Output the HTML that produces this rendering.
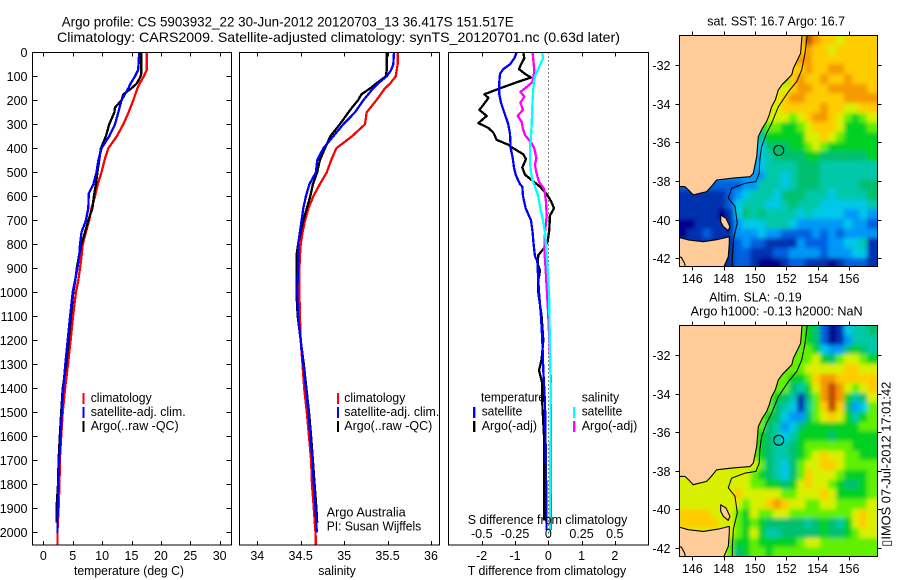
<!DOCTYPE html>
<html lang="en">
<head>
<meta charset="utf-8">
<title>Argo profile CS 5903932_22</title>
<style>
html,body{margin:0;padding:0;background:#fff;}
svg{display:block;}
text{font-family:"Liberation Sans",Arial,sans-serif;font-size:12.5px;fill:#000;}
.title{font-size:14px;}
.frame{fill:none;stroke:#000;stroke-width:1.4;shape-rendering:crispEdges;}
.tick{stroke:#000;stroke-width:1;shape-rendering:crispEdges;}
.ser{fill:none;stroke-width:2.3;stroke-linejoin:round;shape-rendering:crispEdges;}
</style>
</head>
<body>
<svg id="fig" xmlns="http://www.w3.org/2000/svg" width="900" height="580" viewBox="0 0 900 580">
<rect width="900" height="580" fill="#fff"/>
<defs>
<clipPath id="clip1"><rect x="679.5" y="35.5" width="198" height="231"/></clipPath>
<clipPath id="clip2"><rect x="679.5" y="325.5" width="198" height="231"/></clipPath>
<filter id="soften" filterUnits="userSpaceOnUse" x="640" y="0" width="260" height="580"><feGaussianBlur stdDeviation="2.2"/></filter>
</defs>

<text class="title" x="61.7" y="26.5" textLength="452" lengthAdjust="spacingAndGlyphs">Argo profile: CS 5903932_22 30-Jun-2012 20120703_13 36.417S 151.517E</text>
<text class="title" x="57" y="42" textLength="563" lengthAdjust="spacingAndGlyphs">Climatology: CARS2009. Satellite-adjusted climatology: synTS_20120701.nc (0.63d later)</text>

<g id="p1"></g>
<g id="p2"></g>
<g id="p3"></g>
<g id="m1"></g>
<g id="m2"></g>

<g>
<text x="74" y="575" textLength="110" lengthAdjust="spacingAndGlyphs">temperature (deg C)</text>
<rect x="82.5" y="393" width="2" height="11" fill="#f00"/>
<rect x="82.5" y="407" width="2" height="11" fill="#00f"/>
<rect x="82.5" y="421" width="2" height="11" fill="#000"/>
<text x="90.7" y="402" textLength="61" lengthAdjust="spacingAndGlyphs">climatology</text>
<text x="90.7" y="416" textLength="95" lengthAdjust="spacingAndGlyphs">satellite-adj. clim.</text>
<text x="90.7" y="430" textLength="88" lengthAdjust="spacingAndGlyphs">Argo(..raw -QC)</text>
</g>

<g>
<text x="318.3" y="575" textLength="37.5" lengthAdjust="spacingAndGlyphs">salinity</text>
<rect x="337" y="393" width="2" height="11" fill="#f00"/>
<rect x="337" y="407" width="2" height="11" fill="#00f"/>
<rect x="337" y="421" width="2" height="11" fill="#000"/>
<text x="344.3" y="402" textLength="61" lengthAdjust="spacingAndGlyphs">climatology</text>
<text x="344.3" y="416" textLength="95" lengthAdjust="spacingAndGlyphs">satellite-adj. clim.</text>
<text x="344.3" y="430" textLength="88" lengthAdjust="spacingAndGlyphs">Argo(..raw -QC)</text>
<text x="326.7" y="516.7" textLength="79" lengthAdjust="spacingAndGlyphs">Argo Australia</text>
<text x="326.7" y="530.7" textLength="94.5" lengthAdjust="spacingAndGlyphs">PI: Susan Wijffels</text>
</g>

<g>
<text x="481" y="401.7" textLength="64" lengthAdjust="spacingAndGlyphs">temperature</text>
<rect x="473" y="407" width="2.4" height="11" fill="#00f"/>
<rect x="473" y="421" width="2.4" height="11" fill="#000"/>
<text x="481.7" y="415.7" textLength="40.6" lengthAdjust="spacingAndGlyphs">satellite</text>
<text x="481.7" y="430" textLength="55.3" lengthAdjust="spacingAndGlyphs">Argo(-adj)</text>
<text x="581.7" y="401.7" textLength="37.5" lengthAdjust="spacingAndGlyphs">salinity</text>
<rect x="573" y="407" width="2.4" height="11" fill="#0ff"/>
<rect x="573" y="421" width="2.4" height="11" fill="#f0f"/>
<text x="581.7" y="415.7" textLength="40.6" lengthAdjust="spacingAndGlyphs">satellite</text>
<text x="581.7" y="430" textLength="55.6" lengthAdjust="spacingAndGlyphs">Argo(-adj)</text>
<text x="467.7" y="524" textLength="159.6" lengthAdjust="spacingAndGlyphs">S difference from climatology</text>
<text x="467.7" y="575" textLength="158.5" lengthAdjust="spacingAndGlyphs">T difference from climatology</text>
</g>

<g>
<text x="707.3" y="25.7" textLength="137.7" lengthAdjust="spacingAndGlyphs">sat. SST: 16.7 Argo: 16.7</text>
<text x="709.3" y="301.7" textLength="92.4" lengthAdjust="spacingAndGlyphs">Altim. SLA: -0.19</text>
<text x="690.7" y="315.7" textLength="172" lengthAdjust="spacingAndGlyphs">Argo h1000: -0.13 h2000: NaN</text>
<text transform="translate(890.7,546.7) rotate(-90)" textLength="165" lengthAdjust="spacingAndGlyphs">&#9647;IMOS 07-Jul-2012 17:01:42</text>
</g>
</svg>

<script>
// ---- profile data ----
const tempDepths = [0,50,75,100,130,150,200,250,300,350,400,450,500,550,600,650,700,750,800,850,900,950,1000,1100,1200,1300,1400,1500,1600,1700,1800,1900,2000,2050];
const tempClim = [17.57,17.57,17.57,17.1,16.4,16.0,15.3,14.5,13.6,12.5,11.05,10.4,9.9,9.25,8.8,8.2,7.8,7.25,6.7,6.5,6.25,5.95,5.55,5.05,4.65,4.2,3.7,3.3,3.05,2.8,2.75,2.6,2.4,2.4];
const tempSatDepths = [0,50,75,100,130,150,200,250,300,350,400,450,500,550,590,610,650,700,750,800,850,900,950,1000,1100,1200,1300,1400,1500,1600,1700,1800,1900,2000];
const tempSat = [16.3,16.2,16.1,15.6,14.85,14.45,13.3,12.75,12.2,11.2,9.9,9.35,9.05,8.5,7.7,7.7,7.65,7.25,6.5,6.25,6.1,5.8,5.4,5.0,4.55,4.15,3.75,3.4,3.15,2.95,2.7,2.55,2.45,2.4];
const tempArgoDepths = [0,50,90,100,130,150,175,200,230,250,300,350,400,450,500,550,600,650,700,750,800,850,900,950,1000,1100,1200,1300,1400,1500,1600,1700,1800,1900,1960];
const tempArgo = [16.65,16.65,16.65,16.55,15.9,15.0,13.6,13.3,12.2,12.1,11.2,10.65,9.8,9.5,9.2,8.95,8.6,8.35,7.65,7.1,6.5,6.05,5.7,5.45,5.1,4.7,4.3,3.9,3.3,3.05,2.8,2.6,2.5,2.25,2.25];

const salClimDepths = [0,50,75,100,130,150,200,250,300,350,400,450,500,550,600,650,700,750,800,850,900,1000,1100,1200,1300,1400,1500,1600,1700,1800,1900,2000,2050];
const salClim = [35.616,35.616,35.605,35.593,35.53,35.47,35.37,35.26,35.24,35.09,34.91,34.85,34.80,34.72,34.645,34.59,34.55,34.52,34.5,34.49,34.485,34.485,34.49,34.5,34.52,34.54,34.57,34.595,34.62,34.63,34.65,34.67,34.675];
const salSatDepths = [0,50,75,100,130,150,200,250,300,350,400,450,500,550,600,650,700,750,800,850,900,1000,1100,1200,1300,1400,1500,1600,1700,1800,1900,2000];
const salSat = [35.574,35.566,35.54,35.49,35.39,35.335,35.22,35.125,34.99,34.875,34.76,34.69,34.675,34.6,34.56,34.53,34.51,34.49,34.47,34.47,34.47,34.46,34.47,34.5,34.53,34.56,34.59,34.61,34.635,34.65,34.67,34.685];
const salArgoDepths = [0,50,75,100,130,150,175,200,230,250,300,350,400,450,500,550,600,650,700,750,800,850,900,1000,1100,1200,1300,1400,1500,1600,1700,1800,1900,1960];
const salArgo = [35.49,35.49,35.49,35.48,35.37,35.3,35.2,35.16,35.09,35.05,34.95,34.84,34.78,34.72,34.69,34.64,34.61,34.57,34.53,34.5,34.47,34.45,34.45,34.45,34.465,34.5,34.535,34.565,34.595,34.62,34.64,34.66,34.68,34.69];

const dTArgoDepths = [0,25,50,70,90,105,125,150,175,190,210,240,265,295,315,335,365,385,400,425,445,480,510,560,590,620,650,680,740,790,820,845,880,910,950,1000,1100,1200,1280,1325,1380,1464,1600,1880,1950];
const dTArgo = [-0.75,-0.72,-0.82,-0.88,-0.7,-0.52,-0.95,-1.45,-1.92,-1.8,-1.9,-2.07,-1.85,-2.1,-1.8,-1.65,-1.55,-1.2,-1.05,-0.75,-0.67,-0.78,-0.7,-0.25,-0.05,0.08,0.17,0.05,0.03,-0.02,-0.15,-0.3,-0.32,-0.25,-0.3,-0.3,-0.2,-0.15,-0.2,-0.28,-0.18,-0.18,-0.13,-0.12,-0.12];
const dTSatDepths = [0,25,50,70,90,125,175,210,260,300,340,400,440,480,510,550,560,600,650,700,750,800,850,870,950,1000,1100,1200,1325,1464,1740,1990];
const dTSat = [-0.95,-1.02,-1.15,-1.35,-1.45,-1.47,-1.47,-1.42,-1.3,-1.2,-1.15,-1.13,-1.07,-1.03,-0.98,-0.85,-0.78,-0.76,-0.68,-0.52,-0.47,-0.44,-0.4,-0.33,-0.3,-0.28,-0.22,-0.18,-0.15,-0.1,-0.07,-0.05];
const dSSatDepths = [0,25,50,75,100,130,200,300,350,400,450,500,530,560,600,650,700,750,800,900,1000,1400,2000];
const dSSat = [-0.045,-0.04,-0.06,-0.08,-0.1,-0.11,-0.118,-0.125,-0.13,-0.138,-0.138,-0.13,-0.12,-0.1,-0.075,-0.06,-0.04,-0.025,-0.018,-0.005,0.005,0.018,0.012];
const dSArgoDepths = [0,50,75,100,125,150,165,185,210,240,265,290,320,345,375,400,440,470,500,540,570,620,680,750,820,900,1100,1300,1400,1600,1900,1990];
const dSArgo = [-0.118,-0.11,-0.105,-0.11,-0.12,-0.175,-0.21,-0.18,-0.21,-0.19,-0.23,-0.2,-0.19,-0.175,-0.13,-0.105,-0.09,-0.1,-0.09,-0.07,-0.03,-0.018,-0.012,-0.025,-0.03,-0.02,0.0,0.015,0.02,0.02,0.02,0.02];

// ---- tick labels ----
const depthTicks = [0,100,200,300,400,500,600,700,800,900,1000,1100,1200,1300,1400,1500,1600,1700,1800,1900,2000];
const tempTicks = [0,5,10,15,20,25,30];
const salTicks = [34,34.5,35,35.5,36];
const dTTicks = [-2,-1,0,1,2];
const dSTicks = [-0.5,-0.25,0,0.25,0.5];
const lonTicks = [146,148,150,152,154,156];
const latTicks = [-32,-34,-36,-38,-40,-42];

// ---- map geography (degrees) ----
const mainlandLon = [145.0,153.02,152.91,152.45,152.35,152.13,151.75,151.49,151.3,151.06,150.9,150.74,150.45,150.21,150.11,149.89,149.68,148.6,147.55,147.2,146.91,146.06,145.8,145.53,145.0];
const mainlandLat = [-30.3,-30.3,-31.40,-32.17,-32.5,-32.69,-33.0,-33.29,-33.8,-34.16,-34.6,-34.93,-35.3,-35.71,-36.74,-37.60,-37.78,-37.85,-37.95,-38.3,-38.55,-38.72,-38.5,-38.29,-38.29];
const tasmaniaLon = [145.0,145.74,146.70,147.66,148.36,148.36,148.30,148.02,148.0,145.0];
const tasmaniaLat = [-40.88,-41.05,-41.14,-41.02,-40.88,-41.22,-41.91,-42.43,-42.7,-42.7];
const islandLon = [147.81,148.15,148.40,148.30,147.98,147.81];
const islandLat = [-39.76,-39.93,-40.36,-40.57,-40.36,-40.10];
const cornerLon = [145.0,145.3,145.5,145.6,145.0];
const cornerLat = [-41.9,-41.95,-42.25,-42.6,-42.6];
const isobathLon = [153.36,153.19,152.98,152.66,152.13,151.49,151.06,150.74,150.42,150.31,150.27,150.06,149.36,148.51,148.30,148.72,148.87,148.62,148.55,148.55];
const isobathLat = [-30.3,-31.40,-32.26,-32.86,-33.38,-34.16,-35.02,-35.53,-36.22,-36.91,-37.60,-38.03,-38.12,-38.38,-38.88,-39.31,-40.17,-41.02,-42.0,-42.6];
const floatLon = 151.517;
const floatLat = -36.417;

// ---- map colour levels (0 lowest .. 12 highest), 0.5 degree cells ----
const sstLevels = [
[10,10,10,10,10,10,10,10,10,10,10,10,10,10,10,10,12,11,10,10,9,10,10,10,10,10],
[10,10,10,10,10,10,10,10,10,10,10,10,10,10,10,10,11,10,10,9,10,10,10,10,10,10],
[11,11,11,11,11,11,11,11,11,11,11,11,11,11,11,11,11,10,10,10,10,10,10,10,10,10],
[10,10,10,10,10,10,10,10,10,10,10,10,10,10,10,10,11,10,10,11,11,10,10,10,10,10],
[9,9,9,9,9,9,9,9,9,9,9,9,9,8,10,11,10,10,11,10,10,11,10,10,10,10],
[9,9,9,9,9,9,9,9,9,9,9,9,9,9,10,11,11,10,10,11,11,11,11,11,10,10],
[9,9,9,9,9,9,9,9,9,9,9,9,9,10,11,11,10,10,10,10,10,11,11,11,11,11],
[9,9,9,9,9,9,9,9,9,9,9,9,9,10,10,10,10,10,11,10,10,9,9,10,10,10],
[9,9,9,9,9,9,9,9,9,9,9,9,9,9,8,9,10,11,11,10,9,8,7,8,9,9],
[7,7,7,7,7,7,7,7,7,7,7,8,8,7,7,8,9,10,10,10,9,7,7,7,8,8],
[5,5,5,5,5,5,5,5,5,5,5,7,7,7,7,7,9,9,10,9,8,7,7,7,7,7],
[4,4,4,4,4,4,4,4,4,4,4,6,6,6,7,7,8,9,8,7,7,7,7,7,7,7],
[3,3,3,3,3,3,3,3,3,3,4,5,6,6,6,6,7,7,6,6,6,6,6,6,7,7],
[3,3,3,3,3,3,3,3,3,3,4,5,5,5,5,6,6,6,5,5,5,5,5,5,5,5],
[3,3,3,3,3,3,3,3,3,3,3,5,5,4,5,6,6,6,5,5,5,5,5,5,5,5],
[2,2,2,2,2,2,2,2,3,3,5,5,5,4,5,6,6,6,5,5,5,5,5,6,6,6],
[1,1,1,1,1,1,2,3,4,5,5,5,4,6,6,6,5,5,5,4,5,5,5,5,6,6],
[1,1,1,1,1,1,2,4,5,5,5,4,4,5,6,5,5,5,4,4,4,4,4,4,5,5],
[1,1,1,1,1,0,1,4,6,5,6,5,5,5,5,4,5,4,4,4,4,3,3,4,3,3],
[0,0,1,1,1,1,1,3,4,4,4,5,5,5,4,3,3,3,3,3,3,4,3,3,2,2],
[0,1,1,2,1,1,1,3,3,3,4,3,3,2,2,2,2,3,2,3,2,3,3,3,3,3],
[1,1,1,1,1,1,1,2,3,2,2,1,1,1,1,3,2,2,2,3,3,4,4,5,1,1],
[1,1,1,1,1,1,1,2,2,1,1,1,2,2,3,3,3,3,2,3,3,3,4,4,1,1],
[1,1,1,1,1,1,1,2,2,1,0,0,0,1,2,2,1,1,1,0,1,2,2,2,1,1]
];
const slaLevels = [
[8,8,8,8,8,8,8,8,8,8,8,8,8,8,8,8,7,6,2,0,1,4,5,5,6,6],
[8,8,8,8,8,8,8,8,8,8,8,8,8,8,8,8,7,6,2,0,1,3,5,5,5,5],
[8,8,8,8,8,8,8,8,8,8,8,8,8,8,8,8,8,7,4,3,3,6,7,6,5,5],
[8,8,8,8,8,8,8,8,8,8,8,8,8,8,8,8,8,9,7,6,8,9,9,8,7,7],
[8,8,8,8,8,8,8,8,8,8,8,8,8,8,8,8,9,9,9,9,9,10,10,9,9,9],
[8,8,8,8,8,8,8,8,8,8,8,8,8,8,7,7,8,10,11,11,10,10,10,10,10,10],
[8,8,8,8,8,8,8,8,8,8,8,8,8,8,6,5,7,9,11,12,11,9,8,9,10,10],
[8,8,8,8,8,8,8,8,8,8,8,8,7,6,5,1,6,8,11,12,11,7,5,6,9,9],
[8,8,8,8,8,8,8,8,8,8,8,8,6,5,4,1,5,8,10,12,10,6,3,4,8,8],
[8,8,8,8,8,8,8,8,8,8,8,7,6,4,3,3,6,8,9,10,9,7,5,7,8,8],
[8,8,8,8,8,8,8,8,8,8,8,6,5,3,4,6,7,7,7,7,7,7,7,8,8,8],
[8,8,8,8,8,8,8,8,8,8,7,6,5,4,5,7,7,7,7,6,7,7,7,7,7,7],
[8,8,8,8,8,8,8,8,8,8,7,6,5,5,6,7,8,8,8,8,8,8,7,7,7,7],
[8,8,8,8,8,8,8,8,8,8,7,6,5,5,6,7,8,9,10,9,9,8,8,7,7,7],
[9,9,9,9,9,9,9,9,9,9,8,6,5,4,6,8,9,9,10,10,9,8,8,8,8,8],
[9,9,9,9,9,9,9,9,9,8,7,6,5,4,6,8,10,9,9,9,8,7,7,7,8,8],
[9,9,9,9,9,9,9,9,9,8,8,7,7,6,7,9,10,9,9,8,7,6,6,7,8,8],
[9,9,9,9,9,9,9,10,9,9,9,9,9,8,8,9,9,9,10,9,7,7,7,7,8,8],
[9,9,9,9,9,9,9,9,8,9,9,10,11,10,9,9,8,8,9,9,8,8,8,8,9,9],
[10,10,10,10,9,9,9,8,7,9,8,8,9,9,8,8,8,8,8,8,8,8,9,10,9,9],
[10,10,10,10,10,9,9,8,7,8,7,6,6,6,6,6,5,6,7,6,5,7,9,10,9,9],
[9,9,9,9,9,9,9,8,7,9,7,5,5,6,6,6,6,6,7,6,6,7,8,9,9,9],
[9,9,9,9,9,9,8,7,7,8,7,7,7,7,7,8,9,9,8,8,8,8,8,8,8,8],
[9,9,9,9,9,9,8,6,7,8,8,7,8,8,8,8,8,8,8,8,8,8,8,8,8,8]
];
const levelColours = ['#00008c','#0030b0','#0060e0','#0098f8','#00c8e8','#00c8a8','#00c070','#00d020','#60f000','#d8f000','#ffcc00','#f59a00','#c04800'];

// ---- scales ----
const plotTop = 52.5, plotBottom = 545;
function yDepth(d){ return 52.3 + 0.24*d; }
function xTemp(v){ return 43.3 + 5.88*v; }
function xSal(v){ return 257.3 + 86.85*(v-34); }
function xDT(v){ return 548.3 + 33.3*v; }
function xDS(v){ return 548.3 + 133*v; }
function xLon(v){ return 692.3 + 15.67*(v-146); }
function yLat1(v){ return 65 + 19.33*(-32-v); }
function yLat2(v){ return 355 + 19.3*(-32-v); }

const NS = 'http://www.w3.org/2000/svg';
function mk(tag, parent, props, text){
  const e = document.createElementNS(NS, tag);
  for (const k in props) e.setAttribute(k, props[k]);
  if (text !== undefined) e.textContent = text;
  parent.appendChild(e);
  return e;
}
function tickLabel(parent, x, y, anchor, str, name){
  const t = mk('text', parent, {x:x, y:y, 'text-anchor':anchor}, str);
  
  
}
function tickMark(parent, x1, y1, x2, y2, name){
  const l = mk('line', parent, {x1:x1, y1:y1, x2:x2, y2:y2, class:'tick'});
  
  
}
function profile(parent, depths, values, xf, colour, name){
  let d = '';
  for (let i = 0; i < values.length; i++) {
    d += (i ? 'L' : 'M') + xf(values[i]).toFixed(1) + ' ' + yDepth(depths[i]).toFixed(1);
  }
  const p = mk('path', parent, {d:d, class:'ser', stroke:colour});
  
  
}
function frame(parent, x, y, w, h, name){
  const r = mk('rect', parent, {x:x, y:y, width:w, height:h, class:'frame'});
  
  
}

// ---- temperature panel ----
const p1 = document.getElementById('p1');
profile(p1, tempDepths, tempClim, xTemp, '#f00', 'series-temperature-climatology');
profile(p1, tempArgoDepths, tempArgo, xTemp, '#000', 'series-temperature-argo');
profile(p1, tempSatDepths, tempSat, xTemp, '#00f', 'series-temperature-satellite');
frame(p1, 32.5, plotTop, 199, plotBottom-plotTop, 'temperature-plot-frame');
depthTicks.forEach(function(d){
  const y = Math.round(yDepth(d)) + 0.5;
  tickMark(p1, 32.5, y, 37.5, y, 'depth-tick-left');
  tickMark(p1, 226.5, y, 231.5, y, 'depth-tick-right');
  tickLabel(p1, 27.5, y+4.5, 'end', String(d), 'depth-tick-label');
});
tempTicks.forEach(function(v){
  const x = Math.round(xTemp(v)) + 0.5;
  tickMark(p1, x, plotTop, x, plotTop+4, 'temperature-tick-top');
  tickMark(p1, x, plotBottom-4, x, plotBottom, 'temperature-tick-bottom');
  tickLabel(p1, xTemp(v), 560, 'middle', String(v), 'temperature-tick-label');
});

// ---- salinity panel ----
const p2 = document.getElementById('p2');
profile(p2, salClimDepths, salClim, xSal, '#f00', 'series-salinity-climatology');
profile(p2, salArgoDepths, salArgo, xSal, '#000', 'series-salinity-argo');
profile(p2, salSatDepths, salSat, xSal, '#00f', 'series-salinity-satellite');
frame(p2, 239.5, plotTop, 200, plotBottom-plotTop, 'salinity-plot-frame');
salTicks.forEach(function(v){
  const x = Math.round(xSal(v)) + 0.5;
  tickMark(p2, x, plotTop, x, plotTop+4, 'salinity-tick-top');
  tickMark(p2, x, plotBottom-4, x, plotBottom, 'salinity-tick-bottom');
  tickLabel(p2, xSal(v), 560, 'middle', String(v), 'salinity-tick-label');
});

// ---- difference panel ----
const p3 = document.getElementById('p3');
const zeroLine = mk('line', p3, {x1:548.5, y1:plotTop, x2:548.5, y2:plotBottom, stroke:'#000', 'stroke-width':1, 'stroke-dasharray':'1 3', 'shape-rendering':'crispEdges'});


profile(p3, dTArgoDepths, dTArgo, xDT, '#000', 'series-t-difference-argo');
profile(p3, dTSatDepths, dTSat, xDT, '#00f', 'series-t-difference-satellite');
profile(p3, dSArgoDepths, dSArgo, xDS, '#f0f', 'series-s-difference-argo');
profile(p3, dSSatDepths, dSSat, xDS, '#0ff', 'series-s-difference-satellite');
frame(p3, 448.5, plotTop, 200, plotBottom-plotTop, 'difference-plot-frame');
dTTicks.forEach(function(v){
  const x = Math.round(xDT(v)) + 0.5;
  if (v !== 0) tickMark(p3, x, plotTop, x, plotTop+4, 'difference-tick-top');
  tickMark(p3, x, plotBottom-4, x, plotBottom, 'difference-tick-bottom');
  tickLabel(p3, xDT(v), 560, 'middle', String(v), 't-difference-tick-label');
});
dSTicks.forEach(function(v){
  tickLabel(p3, xDS(v), 538, 'middle', String(v), 's-difference-tick-label');
});

// ---- maps ----
function pathFrom(lons, lats, xf, yf, close){
  let d = '';
  for (let i = 0; i < lons.length; i++) {
    d += (i ? 'L' : 'M') + xf(lons[i]).toFixed(1) + ' ' + yf(lats[i]).toFixed(1);
  }
  return d + (close ? 'Z' : '');
}
function drawMap(id, clipId, levels, yf, top, bottom, prefix){
  const g = document.getElementById(id);
  const c = mk('g', g, {'clip-path':'url(#' + clipId + ')'});
  
  
  const field = mk('g', c, {filter:'url(#soften)'});
  
  
  const nRows = levels.length;
  levels.forEach(function(row, j){
    const nCols = row.length;
    row.forEach(function(level, i){
      const lonL = 145.17 + 0.5*i, latT = -30.46 - 0.5*j;
      const x0 = Math.round(xLon(lonL)) - (i === 0 ? 12 : 0);
      const x1 = Math.round(xLon(lonL+0.5)) + (i === nCols-1 ? 12 : 0);
      const y0 = Math.round(yf(latT)) - (j === 0 ? 12 : 0);
      const y1 = Math.round(yf(latT-0.5)) + (j === nRows-1 ? 12 : 0);
      const r = mk('rect', field, {x:x0, y:y0, width:x1-x0, height:y1-y0, fill:levelColours[level]});
      
      
    });
  });
  const land = [[mainlandLon, mainlandLat, 'mainland'], [tasmaniaLon, tasmaniaLat, 'tasmania'], [islandLon, islandLat, 'island'], [cornerLon, cornerLat, 'corner']];
  land.forEach(function(s){
    const p = mk('path', c, {d:pathFrom(s[0], s[1], xLon, yf, true), fill:'#ffcc99', stroke:'#000', 'stroke-width':1.1, 'stroke-linejoin':'round'});
    
    
  });
  const iso = mk('path', c, {d:pathFrom(isobathLon, isobathLat, xLon, yf, false), fill:'none', stroke:'#000', 'stroke-width':1});
  
  
  const dot = mk('circle', c, {cx:xLon(floatLon), cy:yf(floatLat), r:5, fill:'none', stroke:'#000', 'stroke-width':1});
  
  
  frame(g, 679.5, top, 198, bottom-top, prefix + '-frame');
  lonTicks.forEach(function(v){
    const x = Math.round(xLon(v)) + 0.5;
    tickMark(g, x, top-4, x, top, prefix + '-longitude-tick-top');
    tickMark(g, x, bottom, x, bottom+4, prefix + '-longitude-tick-bottom');
    tickLabel(g, xLon(v), bottom+16.5, 'middle', String(v), prefix + '-longitude-label');
  });
  latTicks.forEach(function(v){
    const y = Math.round(yf(v)) + 0.5;
    tickMark(g, 675.5, y, 679.5, y, prefix + '-latitude-tick-left');
    tickMark(g, 877.5, y, 881.5, y, prefix + '-latitude-tick-right');
    tickLabel(g, 670.5, y+4.5, 'end', String(v), prefix + '-latitude-label');
  });
}
drawMap('m1', 'clip1', sstLevels, yLat1, 35.5, 266.5, 'sst-map');
drawMap('m2', 'clip2', slaLevels, yLat2, 325.5, 556.5, 'sla-map');
</script>
</body>
</html>
